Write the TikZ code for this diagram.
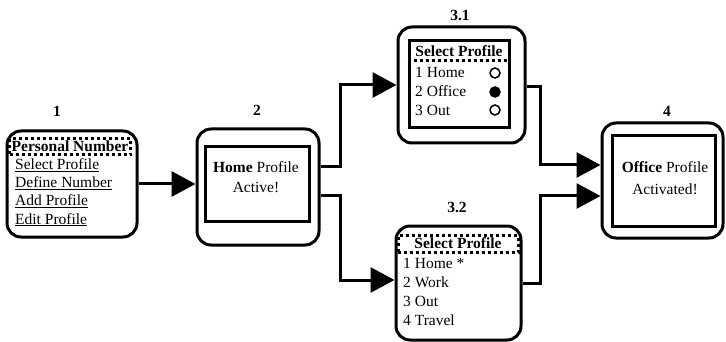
\documentclass[tikz,border=0pt]{standalone}
\usepackage{fontspec}
\setmainfont{Liberation Serif}
\usetikzlibrary{arrows.meta}
\begin{document}
\begin{tikzpicture}[x=1pt,y=-1pt,
  outerbox/.style={draw,line width=3pt,rounded corners=14pt,inner sep=0pt},
  innerbox/.style={draw,line width=3pt,inner sep=0pt},
  dotbox/.style={draw,line width=3pt,dash pattern=on 3pt off 3pt,inner sep=0pt},
  txt/.style={inner sep=0pt,text height=11pt,text depth=1pt,font=\fontsize{15.5}{18}\selectfont},
  btxt/.style={txt,font=\fontsize{15.5}{18}\selectfont\bfseries},
  conn/.style={line width=3pt},
  arr/.style={conn,-{Triangle[length=24pt,width=25pt]}},
  radiodot/.style={circle,draw,line width=1.5pt,minimum size=10pt,inner sep=0pt},
]
\useasboundingbox (0,0) rectangle (726,342);

% labels
\node[btxt] (l1) at (57,112) {1};
\node[btxt] (l2) at (257,111) {2};
\node[btxt] (l31) at (460,16) {3.1};
\node[btxt] (l32) at (457,207) {3.2};
\node[btxt] (l4) at (667,112) {4};

% box 1
\node[outerbox,minimum width=130pt,minimum height=106pt] (b1) at (72,184) {};
\node[dotbox,minimum width=121pt,minimum height=16pt] (d1) at (70,147) {};
\node[btxt] (t1h) at (70,147) {Personal Number};
\node[txt,anchor=west] (t1a) at (15,165) {\underline{Select Profile}};
\node[txt,anchor=west] (t1b) at (15,183) {\underline{Define Number}};
\node[txt,anchor=west] (t1c) at (15,201) {\underline{Add Profile}};
\node[txt,anchor=west] (t1d) at (15,219) {\underline{Edit Profile}};

% box 2
\node[outerbox,minimum width=122pt,minimum height=116pt] (b2) at (258,187) {};
\node[innerbox,minimum width=104pt,minimum height=74pt] (i2) at (257,184) {};
\node[txt] (t2a) at (256,168) {\textbf{Home} Profile};
\node[txt] (t2b) at (256,188) {Active!};

% box 3.1
\node[outerbox,minimum width=127pt,minimum height=116pt] (b31) at (461.5,85) {};
\node[innerbox,minimum width=100pt,minimum height=87pt] (i31) at (459,84.5) {};
\node[btxt] (t31h) at (459,52) {Select Profile};
\coordinate (d31a) at (i31.west |- 0,61);
\coordinate (d31b) at (i31.east |- 0,61);
\draw[line width=3pt,dash pattern=on 3pt off 3pt] (d31a) -- (d31b);
\node[txt,anchor=west] (t31a) at (415,73) {1 Home};
\node[txt,anchor=west] (t31b) at (415,92) {2 Office};
\node[txt,anchor=west] (t31c) at (415,111) {3 Out};
\node[radiodot] (m31a) at (495,73) {};
\node[radiodot,fill=black] (m31b) at (495,92) {};
\node[radiodot] (m31c) at (495,110) {};

% box 3.2
\node[outerbox,minimum width=125pt,minimum height=114pt] (b32) at (458.5,283) {};
\node[dotbox,minimum width=120pt,minimum height=17pt] (d32) at (458,244) {};
\node[btxt] (t32h) at (458,243) {Select Profile};
\node[txt,anchor=west] (t32a) at (403,263) {1 Home *};
\node[txt,anchor=west] (t32b) at (403,282) {2 Work};
\node[txt,anchor=west] (t32c) at (403,301) {3 Out};
\node[txt,anchor=west] (t32d) at (403,320) {4 Travel};

% box 4
\node[outerbox,minimum width=121pt,minimum height=115pt] (b4) at (662.5,180.5) {};
\node[innerbox,minimum width=103pt,minimum height=90pt] (i4) at (664,181) {};
\node[txt] (t4a) at (665,168) {\textbf{Office} Profile};
\node[txt] (t4b) at (665,189) {Activated!};

% connectors
\draw[arr] (b1.east) -- (b1.east -| b2.west);
\draw[arr] ([yshift=20pt]b2.east) -- ++(20,0) |- (b31.west);
\draw[arr] ([yshift=-9pt]b2.east) -- ++(20,0) |- ([yshift=3pt]b32.west);
\draw[arr] ([yshift=-2pt]b31.east) -- ++(14,0) |- ([yshift=15.5pt]b4.west);
\draw[arr] (b32.east) -- ++(18,0) |- ([yshift=-15.5pt]b4.west);
\end{tikzpicture}
\end{document}
